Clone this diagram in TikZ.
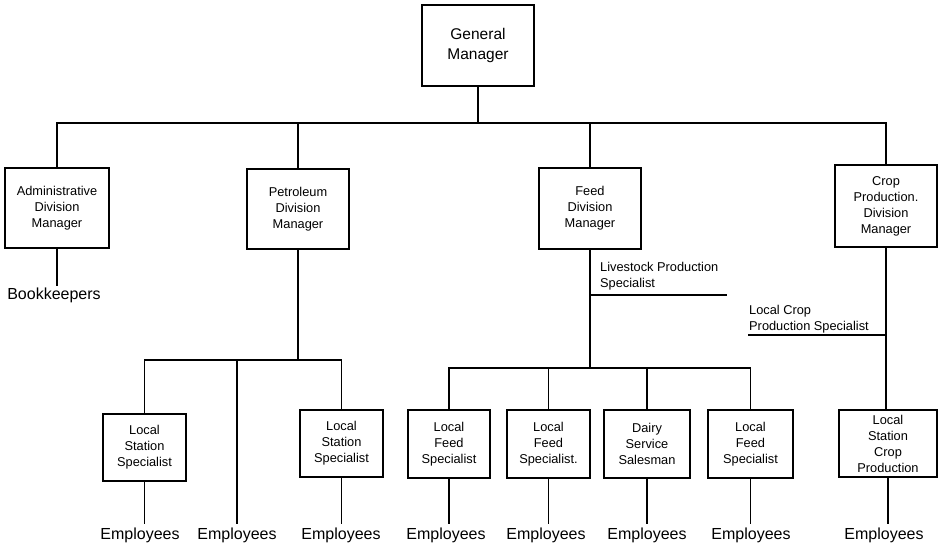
\documentclass[tikz,border=0pt]{standalone}
\usepackage{fontspec}
\setmainfont{Liberation Sans}
\begin{document}
\begin{tikzpicture}[x=1pt,y=-1pt,
  box/.style={draw, line width=1.3pt, align=center, inner sep=0pt,
    font=\fontsize{12.8}{16}\selectfont},
  gmbox/.style={box, font=\fontsize{15.5}{20}\selectfont},
  lbl/.style={align=left, inner sep=0pt, font=\fontsize{12.8}{16}\selectfont},
  emp/.style={inner sep=0pt, outer sep=3.5pt, anchor=base, font=\fontsize{16}{19}\selectfont},
  conn/.style={line width=1.5pt}]
\useasboundingbox (0,0) rectangle (942,543);

% boxes
\node[gmbox, minimum width=112pt, minimum height=81pt] (gm) at (478,45.5) {General\\Manager};
\node[box, minimum width=104pt, minimum height=80pt] (adm) at (57,208) {Administrative\\Division\\Manager};
\node[box, minimum width=102pt, minimum height=80pt] (pet) at (298,209) {Petroleum\\Division\\Manager};
\node[box, minimum width=102pt, minimum height=81pt] (feed) at (590,208.5) {Feed\\Division\\Manager};
\node[box, minimum width=102pt, minimum height=82pt] (crop) at (886,206) {Crop\\Production.\\Division\\Manager};

\node[box, minimum width=83pt, minimum height=67pt] (ls1) at (144.5,447.5) {Local\\Station\\Specialist};
\node[box, minimum width=83pt, minimum height=67pt] (ls2) at (341.5,443.5) {Local\\Station\\Specialist};
\node[box, minimum width=82pt, minimum height=68pt] (lf1) at (449,444) {Local\\Feed\\Specialist};
\node[box, minimum width=83pt, minimum height=68pt] (lf2) at (548.5,444) {Local\\Feed\\Specialist.};
\node[box, minimum width=86pt, minimum height=68pt] (dairy) at (647,444) {Dairy\\Service\\Salesman};
\node[box, minimum width=85pt, minimum height=68pt] (lf3) at (750.5,444) {Local\\Feed\\Specialist};
\node[box, minimum width=98pt, minimum height=67pt] (lscp) at (888,443.5) {Local\\Station\\Crop\\Production};

% leaf texts
\node[emp, outer sep=1.5pt] (bk) at (54,299) {Bookkeepers};
\node[emp] (e1) at (140,539) {Employees};
\node[emp] (e2) at (237,539) {Employees};
\node[emp] (e3) at (341,539) {Employees};
\node[emp] (e4) at (446,539) {Employees};
\node[emp] (e5) at (546,539) {Employees};
\node[emp] (e6) at (647,539) {Employees};
\node[emp] (e7) at (751,539) {Employees};
\node[emp] (e8) at (884,539) {Employees};

% side labels
\node[lbl, anchor=south west] (lps) at (600,290) {Livestock Production\\Specialist};
\node[lbl, anchor=south west] (lcps) at (749,333) {Local Crop\\Production Specialist};

% junction levels
\coordinate (bus) at (0,123);
\coordinate (pj) at (0,360);
\coordinate (fj) at (0,368);
\coordinate (lpsend) at (727,295);
\coordinate (cpend) at (748,335);

% top level
\draw[conn] (gm.south) -- (gm.south |- bus);
\draw[conn] (adm.north) -- (adm.north |- bus) -- (crop.north |- bus) -- (crop.north);
\draw[conn] (pet.north) -- (pet.north |- bus);
\draw[conn] (feed.north) -- (feed.north |- bus);

% administrative
\draw[conn] (adm.south) -- (adm.south |- bk.north);

% petroleum
\draw[conn] (pet.south) -- (pet.south |- pj);
\draw[conn] (ls1.north) -- (ls1.north |- pj) -- (ls2.north |- pj) -- (ls2.north);
\draw[conn] (e2.north) -- (e2.north |- pj);
\draw[conn] (ls1.south) -- (ls1.south |- e1.north);
\draw[conn] (ls2.south) -- (ls2.south |- e3.north);

% feed
\draw[conn] (feed.south) -- (feed.south |- fj);
\draw[conn] (feed.south |- lpsend) -- (lpsend);
\draw[conn] (lf1.north) -- (lf1.north |- fj) -- (lf3.north |- fj) -- (lf3.north);
\draw[conn] (lf2.north) -- (lf2.north |- fj);
\draw[conn] (dairy.north) -- (dairy.north |- fj);
\draw[conn] (lf1.south) -- (lf1.south |- e4.north);
\draw[conn] (lf2.south) -- (lf2.south |- e5.north);
\draw[conn] (dairy.south) -- (dairy.south |- e6.north);
\draw[conn] (lf3.south) -- (lf3.south |- e7.north);

% crop
\draw[conn] (crop.south) -- (crop.south |- lscp.north);
\draw[conn] (cpend) -- (crop.south |- cpend);
\draw[conn] (lscp.south) -- (lscp.south |- e8.north);
\end{tikzpicture}
\end{document}
